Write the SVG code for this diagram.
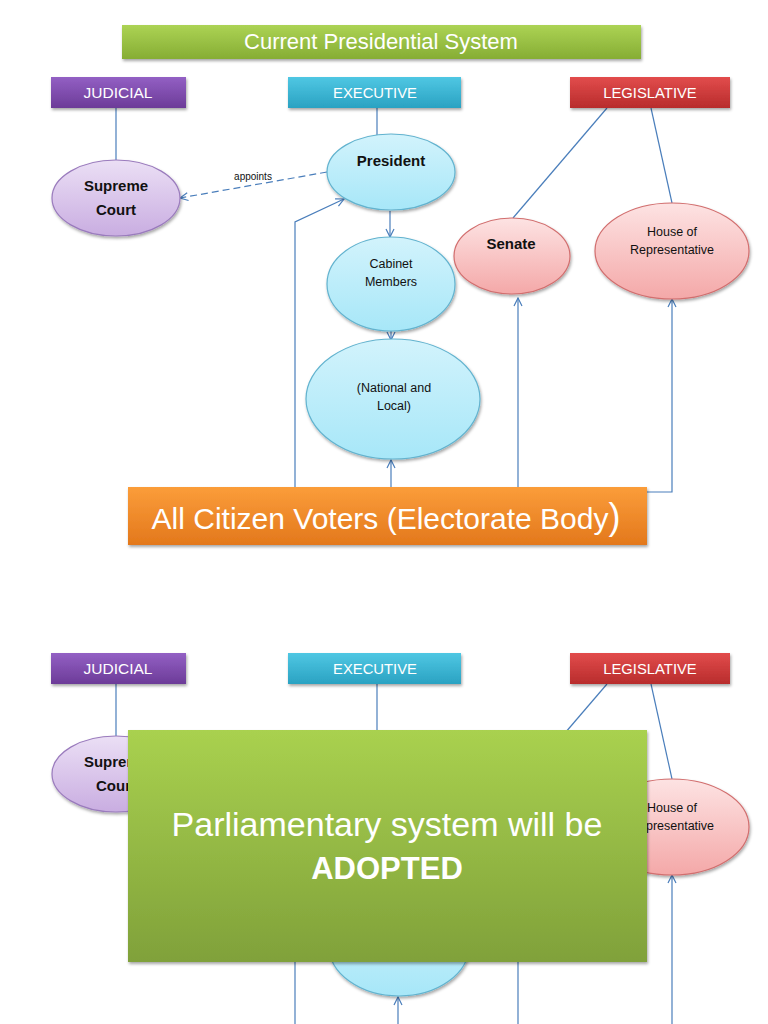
<svg xmlns="http://www.w3.org/2000/svg" width="768" height="1024" viewBox="0 0 768 1024">
<defs>
<linearGradient id="gGreen" x1="0" y1="0" x2="0" y2="1"><stop offset="0" stop-color="#acd354"/><stop offset="1" stop-color="#86ad34"/></linearGradient>
<linearGradient id="gGreenBig" x1="0" y1="0" x2="0" y2="1"><stop offset="0" stop-color="#a9d14f"/><stop offset="1" stop-color="#80a13a"/></linearGradient>
<linearGradient id="gPurple" x1="0" y1="0" x2="0" y2="1"><stop offset="0" stop-color="#9360c4"/><stop offset="1" stop-color="#6c3b98"/></linearGradient>
<linearGradient id="gCyan" x1="0" y1="0" x2="0" y2="1"><stop offset="0" stop-color="#4fc7e3"/><stop offset="1" stop-color="#2aa2c2"/></linearGradient>
<linearGradient id="gRed" x1="0" y1="0" x2="0" y2="1"><stop offset="0" stop-color="#e24c4c"/><stop offset="1" stop-color="#b82c2c"/></linearGradient>
<linearGradient id="gOrange" x1="0" y1="0" x2="0" y2="1"><stop offset="0" stop-color="#fb9d3a"/><stop offset="1" stop-color="#e3781c"/></linearGradient>
<linearGradient id="eCyan" x1="0" y1="0" x2="0" y2="1"><stop offset="0" stop-color="#d2f3fc"/><stop offset="1" stop-color="#a7e7f8"/></linearGradient>
<linearGradient id="ePurple" x1="0" y1="0" x2="0" y2="1"><stop offset="0" stop-color="#ebdff5"/><stop offset="1" stop-color="#c9ade1"/></linearGradient>
<linearGradient id="ePink" x1="0" y1="0" x2="0" y2="1"><stop offset="0" stop-color="#fde3e3"/><stop offset="1" stop-color="#f4a8a8"/></linearGradient>
<filter id="sh" x="-10%" y="-10%" width="120%" height="130%"><feDropShadow dx="1" dy="2" stdDeviation="1.5" flood-color="#000" flood-opacity="0.35"/></filter>
<marker id="arr" markerWidth="10" markerHeight="10" refX="9" refY="5" orient="auto" markerUnits="userSpaceOnUse"><path d="M1,1 L9,5 L1,9" fill="none" stroke="#4a7ebb" stroke-width="1.2"/></marker>
</defs>
<style>
.hdr{font-family:"Liberation Sans",Arial,sans-serif;fill:#fff;text-anchor:middle}
.lbl{font-family:"Liberation Sans",Arial,sans-serif;fill:#111;text-anchor:middle}
.b{font-weight:bold}
.ln{fill:none;stroke:#4a7ebb;stroke-width:1.2}
.ecy{fill:url(#eCyan);stroke:#62b3cf;stroke-width:1.2}
.epu{fill:url(#ePurple);stroke:#9a7bbd;stroke-width:1.2}
.epk{fill:url(#ePink);stroke:#d26e6e;stroke-width:1.2}
</style>
<rect width="768" height="1024" fill="#fff"/>

<!-- ========== TOP SLIDE ========== -->
<g id="connectors-top">
<line class="ln" x1="116" y1="108" x2="116" y2="160"/>
<line class="ln" x1="377" y1="108" x2="377" y2="135"/>
<line class="ln" x1="607" y1="108" x2="513" y2="218"/>
<line class="ln" x1="651" y1="108" x2="672" y2="203"/>
<line class="ln" x1="327" y1="172" x2="180" y2="198" stroke-dasharray="7,4" marker-end="url(#arr)"/>
<line class="ln" x1="390" y1="211" x2="390" y2="237" marker-end="url(#arr)"/>
<line class="ln" x1="391" y1="331" x2="391" y2="340" marker-end="url(#arr)"/>
<line class="ln" x1="391" y1="487" x2="391" y2="460" marker-end="url(#arr)"/>
<polyline class="ln" points="295,487 295,222 344,199" marker-end="url(#arr)"/>
<line class="ln" x1="518" y1="487" x2="518" y2="298" marker-end="url(#arr)"/>
<polyline class="ln" points="647,492 672,492 672,299" marker-end="url(#arr)"/>
<text class="lbl" x="253" y="180" font-size="10">appoints</text>
</g>

<g id="title"><rect x="122" y="25" width="519" height="34" fill="url(#gGreen)" filter="url(#sh)"/><text class="hdr" x="381" y="49" font-size="22">Current Presidential System</text></g>
<g id="judicial"><rect x="51" y="77" width="135" height="31" fill="url(#gPurple)" filter="url(#sh)"/><text class="hdr" x="118" y="98" font-size="15.5">JUDICIAL</text></g>
<g id="executive"><rect x="288" y="77" width="173" height="31" fill="url(#gCyan)" filter="url(#sh)"/><text class="hdr" x="375" y="98" font-size="14.8">EXECUTIVE</text></g>
<g id="legislative"><rect x="570" y="77" width="160" height="31" fill="url(#gRed)" filter="url(#sh)"/><text class="hdr" x="650" y="98" font-size="14.8">LEGISLATIVE</text></g>

<g id="supreme-court"><ellipse class="epu" cx="116" cy="198" rx="64" ry="38" filter="url(#sh)"/><text class="lbl b" x="116" y="191" font-size="15">Supreme</text><text class="lbl b" x="116" y="215" font-size="15">Court</text></g>
<g id="president"><ellipse class="ecy" cx="391" cy="172" rx="64" ry="38" filter="url(#sh)"/><text class="lbl b" x="391" y="166" font-size="15">President</text></g>
<g id="cabinet"><ellipse class="ecy" cx="391" cy="284" rx="64" ry="47" filter="url(#sh)"/><text class="lbl" x="391" y="268" font-size="12.5">Cabinet</text><text class="lbl" x="391" y="286" font-size="12.5">Members</text></g>
<g id="national"><ellipse class="ecy" cx="393" cy="399" rx="87" ry="60" filter="url(#sh)"/><text class="lbl" x="394" y="392" font-size="12.5">(National and</text><text class="lbl" x="394" y="410" font-size="12.5">Local)</text></g>
<g id="senate"><ellipse class="epk" cx="512" cy="256" rx="58" ry="38" filter="url(#sh)"/><text class="lbl b" x="511" y="249" font-size="15">Senate</text></g>
<g id="house"><ellipse class="epk" cx="672" cy="251" rx="77" ry="48" filter="url(#sh)"/><text class="lbl" x="672" y="236" font-size="12.5">House of</text><text class="lbl" x="672" y="254" font-size="12.5">Representative</text></g>
<g id="electorate"><rect x="128" y="487" width="519" height="58" fill="url(#gOrange)" filter="url(#sh)"/><text class="hdr" x="386" y="529" font-size="30">All Citizen Voters (Electorate Body<tspan font-size="36">)</tspan></text></g>

<!-- ========== BOTTOM SLIDE ========== -->
<g id="connectors-bottom">
<line class="ln" x1="116" y1="684" x2="116" y2="736"/>
<line class="ln" x1="377" y1="684" x2="377" y2="732"/>
<line class="ln" x1="607" y1="684" x2="565" y2="733"/>
<line class="ln" x1="651" y1="684" x2="672" y2="779"/>
<line class="ln" x1="295" y1="960" x2="295" y2="1024"/>
<line class="ln" x1="518" y1="960" x2="518" y2="1024"/>
<line class="ln" x1="672" y1="1024" x2="672" y2="875" marker-end="url(#arr)"/>
<line class="ln" x1="398" y1="1024" x2="398" y2="997" marker-end="url(#arr)"/>
</g>
<g id="judicial-2"><rect x="51" y="653" width="135" height="31" fill="url(#gPurple)" filter="url(#sh)"/><text class="hdr" x="118" y="674" font-size="15.5">JUDICIAL</text></g>
<g id="executive-2"><rect x="288" y="653" width="173" height="31" fill="url(#gCyan)" filter="url(#sh)"/><text class="hdr" x="375" y="674" font-size="14.8">EXECUTIVE</text></g>
<g id="legislative-2"><rect x="570" y="653" width="160" height="31" fill="url(#gRed)" filter="url(#sh)"/><text class="hdr" x="650" y="674" font-size="14.8">LEGISLATIVE</text></g>
<g id="supreme-court-2"><ellipse class="epu" cx="116" cy="774" rx="64" ry="38" filter="url(#sh)"/><text class="lbl b" x="116" y="767" font-size="15">Supreme</text><text class="lbl b" x="116" y="791" font-size="15">Court</text></g>
<g id="house-2"><ellipse class="epk" cx="672" cy="827" rx="77" ry="48" filter="url(#sh)"/><text class="lbl" x="672" y="812" font-size="12.5">House of</text><text class="lbl" x="672" y="830" font-size="12.5">Representative</text></g>
<g id="hidden-ellipse"><ellipse class="ecy" cx="399" cy="946" rx="70" ry="50" filter="url(#sh)"/></g>
<g id="parliamentary"><rect x="128" y="730" width="519" height="232" fill="url(#gGreenBig)" filter="url(#sh)"/><text class="hdr" x="387" y="836" font-size="34">Parliamentary system will be</text><text class="hdr b" x="387" y="879" font-size="31">ADOPTED</text></g>
</svg>
